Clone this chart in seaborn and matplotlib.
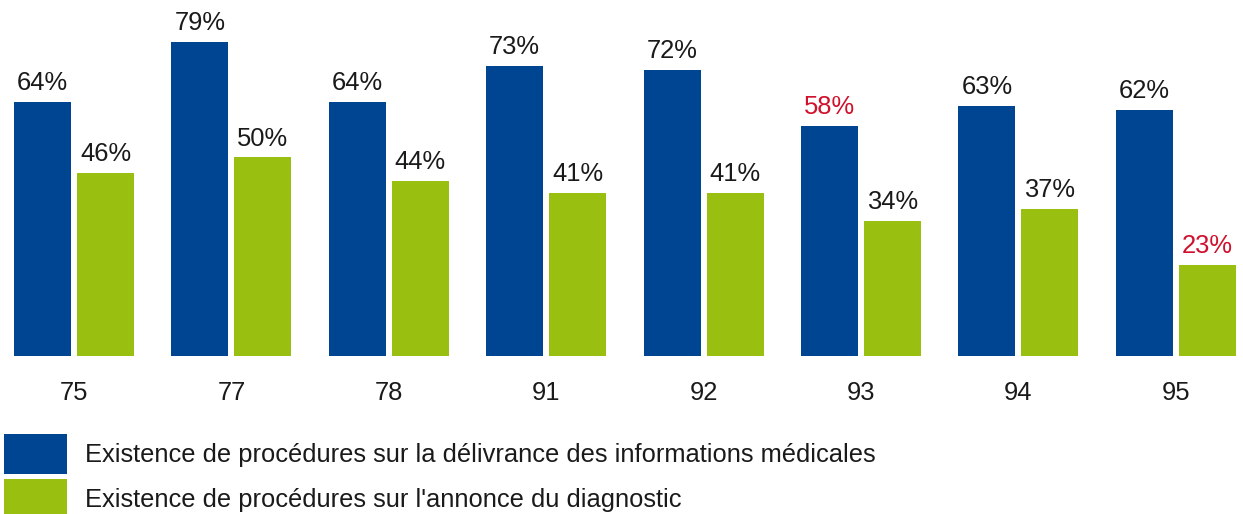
import matplotlib
matplotlib.use("Agg")
import matplotlib.pyplot as plt
import seaborn as sns
import pandas as pd

# Departments and shares (%) of establishments with each procedure
departements = ["75", "77", "78", "91", "92", "93", "94", "95"]
infos_medicales = [64, 79, 64, 73, 72, 58, 63, 62]
annonce_diagnostic = [46, 50, 44, 41, 41, 34, 37, 23]
series = [
    "Existence de procédures sur la délivrance des informations médicales",
    "Existence de procédures sur l'annonce du diagnostic",
]

BLUE = "#004592"
GREEN = "#99bf10"
RED = "#d0102c"
TEXT = "#1a1a1a"
FS = 18.4

sns.set_theme(style="white")
plt.rcParams["font.family"] = ["Liberation Sans Narrow", "Liberation Sans", "DejaVu Sans"]

df = pd.DataFrame({
    "dept": departements * 2,
    "valeur": infos_medicales + annonce_diagnostic,
    "serie": [series[0]] * len(departements) + [series[1]] * len(departements),
})

W, H = 1243, 514
fig = plt.figure(figsize=(W / 100, H / 100), dpi=100)
base = 356  # baseline, pixels from top
ax = fig.add_axes([0, (H - base) / H, 1, base / H])

pitch = 157.4
sns.barplot(
    data=df, x="dept", y="valeur", hue="serie", order=departements,
    hue_order=series, palette=[BLUE, GREEN], saturation=1,
    width=126 / pitch, gap=0.095, linewidth=0, ax=ax,
)

ax.set_xlim(-74 / pitch, (W - 74) / pitch)
ax.set_ylim(0, base / 3.97)
sns.despine(ax=ax, left=True, bottom=True)
ax.set_yticks([])
ax.set_xlabel("")
ax.set_ylabel("")
ax.tick_params(axis="x", length=0, pad=18, labelsize=FS, labelcolor=TEXT)

# Value labels, lowest value of each series in red
for container, vals in zip(ax.containers, [infos_medicales, annonce_diagnostic]):
    lo = min(vals)
    labels = ax.bar_label(container, labels=[f"{v}%" for v in vals],
                          padding=5, fontsize=FS)
    for t, v in zip(labels, vals):
        t.set_color(RED if v == lo else TEXT)

fs = FS * 100 / 72
hh = (40 / fs - 0.245) / 0.65
ax.legend(
    loc="upper left", bbox_to_anchor=(4 / W, 1 - 434 / H),
    bbox_transform=fig.transFigure, frameon=False, fontsize=FS,
    handlelength=63 / fs, handleheight=hh, labelspacing=5 / fs,
    handletextpad=18 / fs, borderpad=0, borderaxespad=0, labelcolor=TEXT,
)

fig.savefig("out.png", dpi=100)
